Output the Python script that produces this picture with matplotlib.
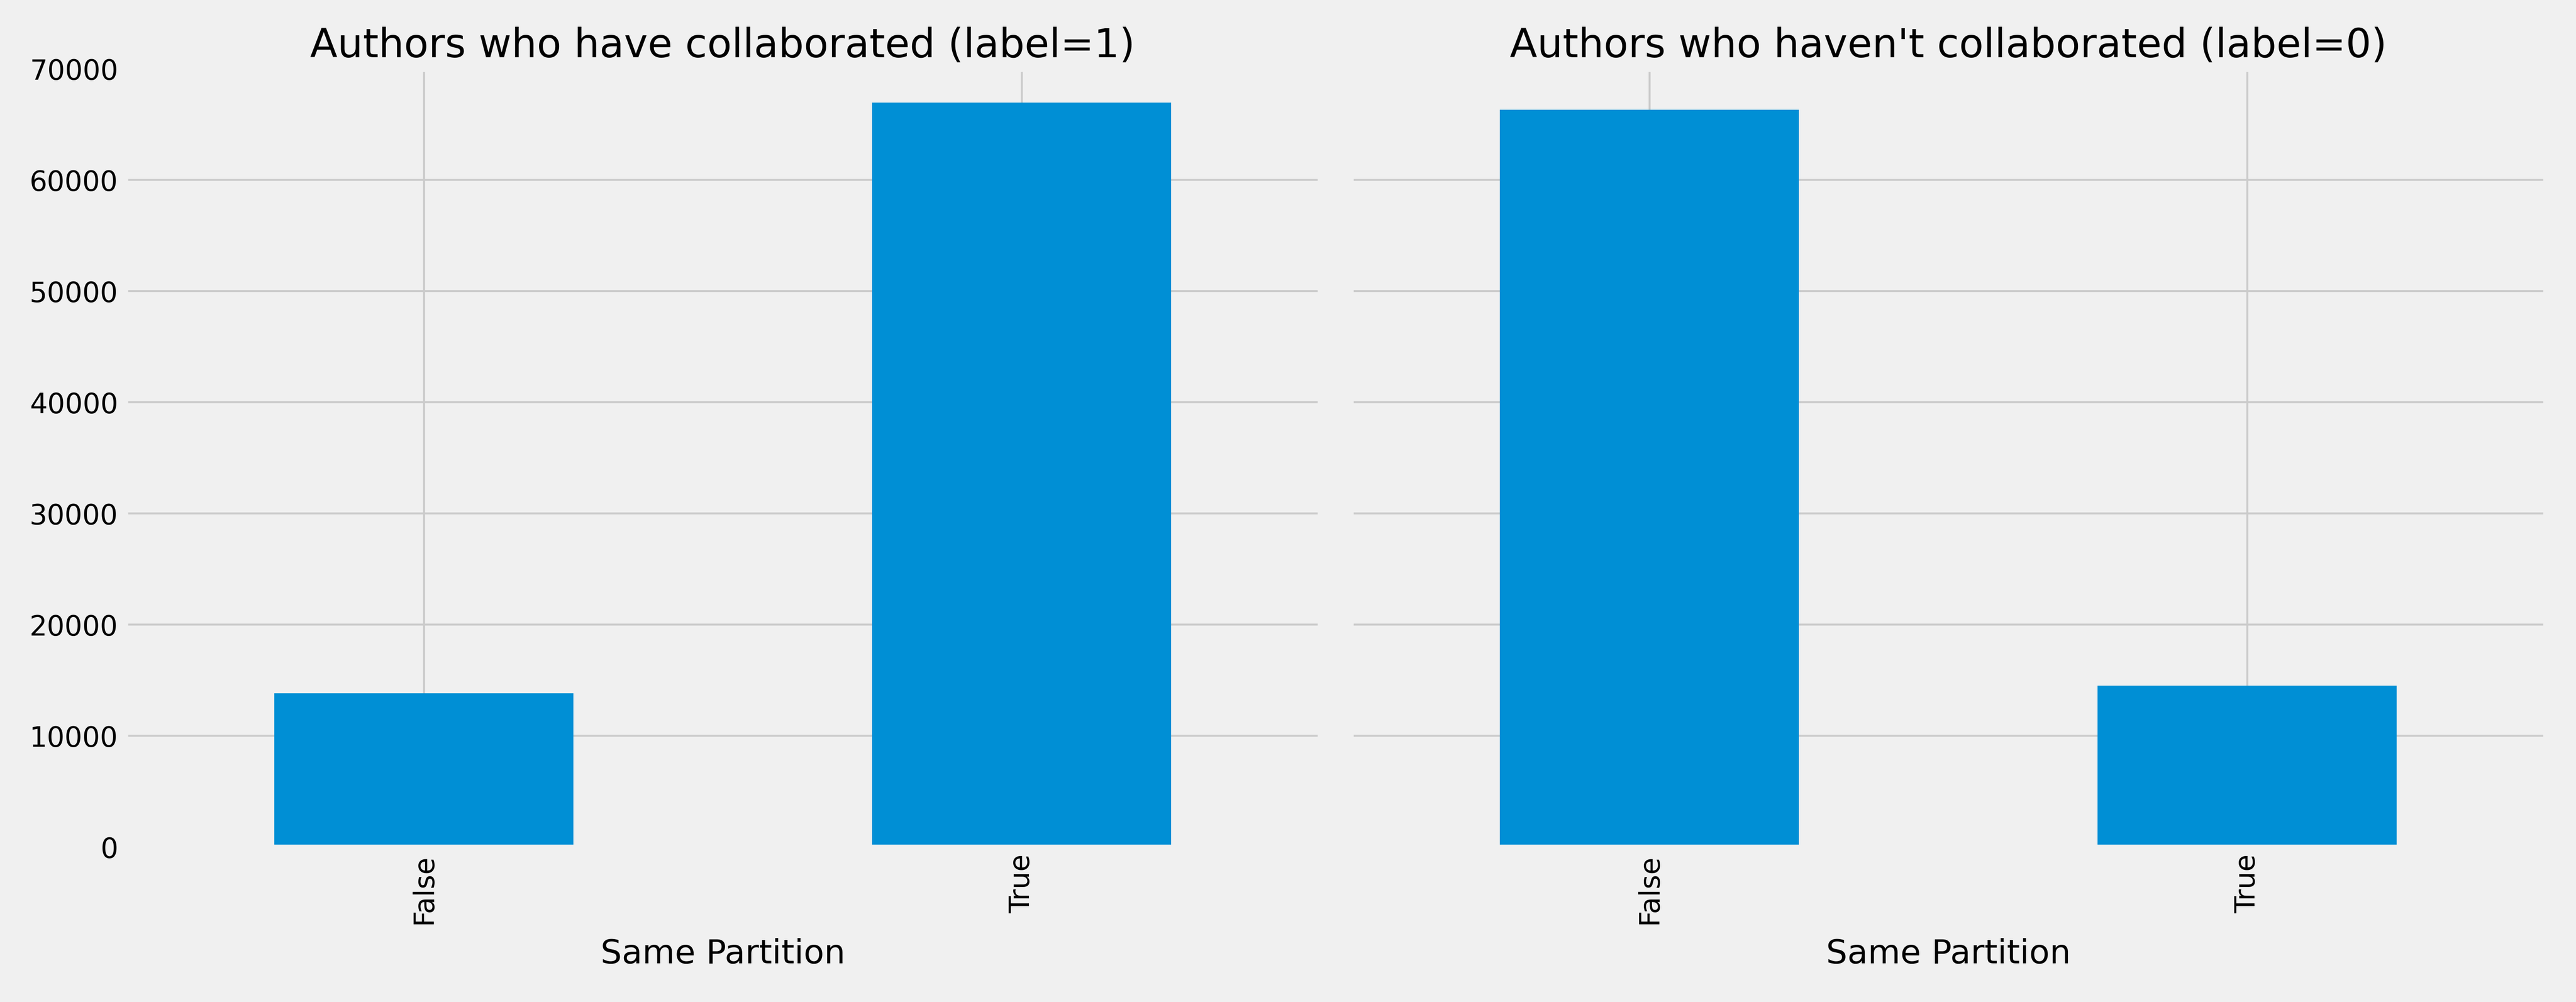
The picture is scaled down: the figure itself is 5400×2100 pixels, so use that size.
import matplotlib
matplotlib.use("Agg")
import matplotlib.pyplot as plt

plt.style.use("fivethirtyeight")

categories = ["False", "True"]
collab_counts = [13850, 66970]
noncollab_counts = [66310, 14540]
titles = ["Authors who have collaborated (label=1)", "Authors who haven't collaborated (label=0)"]
xlabel = "Same Partition"

fig, axes = plt.subplots(1, 2, figsize=(18, 7), sharey=True)
for ax, vals, title in zip(axes, [collab_counts, noncollab_counts], titles):
    x = list(range(len(categories)))
    ax.bar(x, vals, width=0.5, color="#008fd5", zorder=2)
    ax.set_xticks(x)
    ax.set_xticklabels(categories, rotation=90)
    ax.set_xlim(-0.5, len(categories) - 0.5)
    ax.set_title(title)
    ax.set_xlabel(xlabel, labelpad=7)
axes[0].set_ylim(0, 70000)
plt.tight_layout()
fig.subplots_adjust(top=0.9314, bottom=0.1545)
fig.savefig("out.png", dpi=300)
